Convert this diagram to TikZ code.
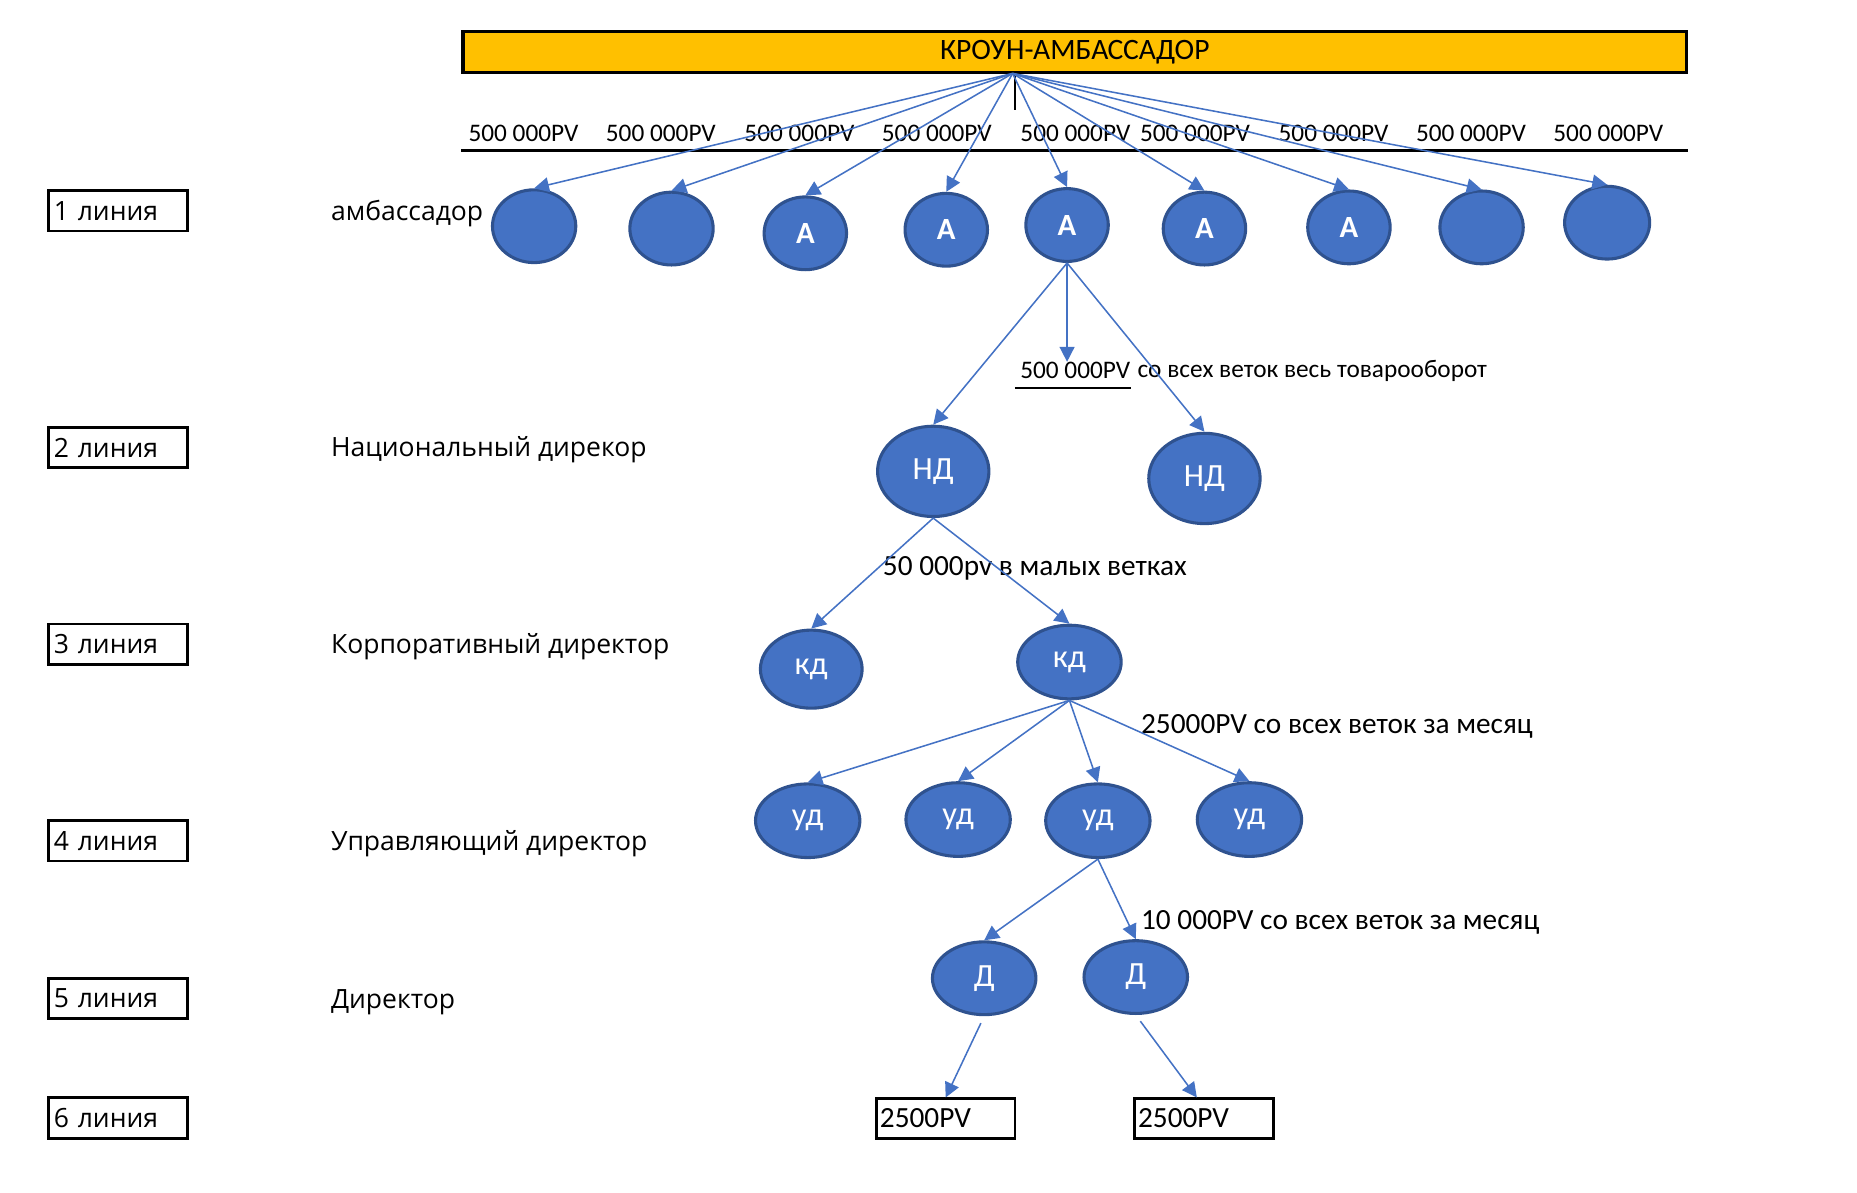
\documentclass[tikz,border=0pt]{standalone}
\usepackage{fontspec}
\setmainfont{Carlito}
\newfontfamily\lblfont{Open Sans}
\usepackage{xcolor}
\usetikzlibrary{shapes.geometric, arrows.meta, positioning, calc}

\definecolor{barorange}{HTML}{FFC000}
\definecolor{memberblue}{HTML}{4472C4}
\definecolor{memberedge}{HTML}{2F528F}

\tikzset{
  member/.style={ellipse, draw=memberedge, line width=1pt, fill=memberblue,
    text=white, inner sep=0pt, font=\fontsize{10.5}{12}\selectfont},
  linebox/.style={draw, line width=0.9pt, minimum height=0.46cm, text width=1.46cm,
    inner xsep=0.06cm, inner ysep=0pt, align=left, font=\lblfont\fontsize{8.6}{10}\selectfont},
  pvbox/.style={draw, line width=0.9pt, minimum height=0.45cm, text width=1.5cm,
    inner xsep=0.04cm, inner ysep=0pt, align=left, font=\fontsize{9.5}{11}\selectfont},
  rank/.style={anchor=west, inner sep=0pt, font=\lblfont\fontsize{8.6}{10}\selectfont},
  pv/.style={inner sep=0pt, font=\fontsize{8.2}{10}\selectfont},
  note/.style={anchor=west, inner sep=0pt, font=\fontsize{9.5}{11}\selectfont},
  link/.style={draw=memberblue, line width=0.5pt, -{Triangle[length=4.8pt,width=4.8pt]}},
}

\begin{document}
\begin{tikzpicture}[x=0.0135cm, y=-0.0135cm]
  \useasboundingbox (0,0) rectangle (1568,1007);

  % top
  \node[draw, line width=1pt, fill=barorange, minimum width=13.95cm, minimum height=0.46cm,
    inner sep=0pt, font=\fontsize{9.6}{11}\selectfont] (crown) at (907.5,44) {КРОУН-АМБАССАДОР};
  \coordinate (fan) at (855,62);
  \draw[line width=0.4pt] (fan) ++(2,0) -- ++(0,31);

  \node[pv] (pv1) at (442,113) {500 000PV};
  \node[pv] (pv2) at (558,113) {500 000PV};
  \node[pv] (pv3) at (675,113) {500 000PV};
  \node[pv] (pv4) at (791,113) {500 000PV};
  \node[pv] (pv5) at (908,113) {500 000PV};
  \node[pv] (pv6) at (1009,113) {500 000PV};
  \node[pv] (pv7) at (1126,113) {500 000PV};
  \node[pv] (pv8) at (1242,113) {500 000PV};
  \node[pv] (pv9) at (1358,113) {500 000PV};
  \draw[line width=0.9pt] (crown.west |- 0,127) -- (crown.east |- 0,127);

  % line labels
  \node[linebox] (l1) at (99.5,178) {1 линия};
  \node[linebox] (l2) at (99.5,378) {2 линия};
  \node[linebox] (l3) at (99.5,544) {3 линия};
  \node[linebox] (l4) at (99.5,710) {4 линия};
  \node[linebox] (l5) at (99.5,843) {5 линия};
  \node[linebox] (l6) at (99.5,944) {6 линия};

  \node[rank] (r1) at (279,180) {амбассадор};
  \node[rank] (r2) at (279,380) {Национальный дирекор};
  \node[rank] (r3) at (279,546) {Корпоративный директор};
  \node[rank] (r4) at (279,712) {Управляющий директор};
  \node[rank] (r5) at (279,846) {Директор};

  % 1 line
  \node[member, minimum width=0.95cm, minimum height=0.83cm] (a1) at (451,191) {};
  \node[member, minimum width=0.95cm, minimum height=0.83cm] (a2) at (567,193) {};
  \node[member, minimum width=0.94cm, minimum height=0.83cm, font=\bfseries] (a3) at (680,197) {А};
  \node[member, minimum width=0.94cm, minimum height=0.83cm, font=\bfseries] (a4) at (799,194) {А};
  \node[member, minimum width=0.94cm, minimum height=0.83cm, font=\bfseries] (a5) at (901,190) {А};
  \node[member, minimum width=0.94cm, minimum height=0.83cm, font=\bfseries] (a6) at (1017,193) {А};
  \node[member, minimum width=0.94cm, minimum height=0.83cm, font=\bfseries] (a7) at (1139,192) {А};
  \node[member, minimum width=0.95cm, minimum height=0.83cm] (a8) at (1251,192) {};
  \node[member, minimum width=0.97cm, minimum height=0.83cm] (a9) at (1357,188) {};

  \draw[link] (fan) -- (a1.north);
  \draw[link] (fan) -- (a2.north);
  \draw[link] (fan) -- (a3.north);
  \draw[link] (fan) -- (a4.north);
  \draw[link] (fan) -- (a5.north);
  \draw[link] (fan) -- (a6.north);
  \draw[link] (fan) -- (a7.north);
  \draw[link] (fan) -- (a8.north);
  \draw[link] (fan) -- (a9.north);

  % 2 line
  \node[pv, anchor=west] (pvA) at (861,313) {500 000PV};
  \node[pv, anchor=west, right=0.07cm of pvA] (pvB) {со всех веток весь товарооборот};
  \draw[line width=0.9pt] ($(pvA.south west)+(-4,7)$) -- ($(pvA.south east)+(0,7)$);

  \node[member, minimum width=1.27cm, minimum height=1.03cm] (nd1) at (788,398) {НД};
  \node[member, minimum width=1.27cm, minimum height=1.03cm] (nd2) at (1017,404) {НД};

  \draw[link] (a5.south) -- (a5.south |- pvA.north);
  \draw[link] (a5.south) -- (nd1.north);
  \draw[link] (a5.south) -- (nd2.north);

  % 3 line
  \node[note] (n50) at (745,480) {50 000pv в малых ветках};
  \node[member, minimum width=1.16cm, minimum height=0.89cm] (kd1) at (685,565) {кд};
  \node[member, minimum width=1.18cm, minimum height=0.84cm] (kd2) at (903,559) {кд};

  \draw[link] (nd1.south) -- (kd1.north);
  \draw[link] (nd1.south) -- (kd2.north);

  % 4 line
  \node[note] (n25) at (963,613) {25000PV со всех веток за месяц};
  \node[member, minimum width=1.19cm, minimum height=0.84cm] (ud1) at (682,693) {уд};
  \node[member, minimum width=1.19cm, minimum height=0.84cm] (ud2) at (809,692) {уд};
  \node[member, minimum width=1.19cm, minimum height=0.84cm] (ud3) at (927,693) {уд};
  \node[member, minimum width=1.19cm, minimum height=0.84cm] (ud4) at (1055,692) {уд};

  \draw[link] (kd2.south) -- (ud1.north);
  \draw[link] (kd2.south) -- (ud2.north);
  \draw[link] (kd2.south) -- (ud3.north);
  \draw[link] (kd2.south) -- (ud4.north);

  % 5 line
  \node[note] (n10) at (963,779) {10 000PV со всех веток за месяц};
  \node[member, minimum width=1.18cm, minimum height=0.83cm] (d1) at (831,826) {Д};
  \node[member, minimum width=1.18cm, minimum height=0.83cm] (d2) at (959,825) {Д};

  \draw[link] (ud3.south) -- (d1.north);
  \draw[link] (ud3.south) -- (d2.north);

  % 6 line
  \node[pvbox] (b1) at (798.5,944.5) {2500PV};
  \node[pvbox] (b2) at (1016.5,944.5) {2500PV};

  \draw[link, shorten <=2.5pt] (d1.south) -- (b1.north);
  \draw[link, shorten <=2.5pt] (d2.south) -- ([xshift=-0.08cm]b2.north);
\end{tikzpicture}
\end{document}
